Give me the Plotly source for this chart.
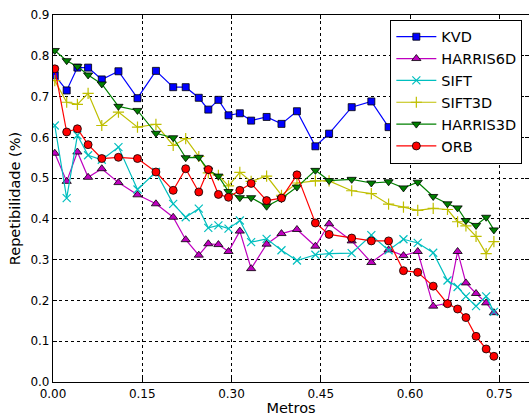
import plotly.graph_objects as go

X = [0.003, 0.023, 0.041, 0.059, 0.082, 0.110, 0.142, 0.173, 0.202, 0.223,
     0.245, 0.261, 0.278, 0.295, 0.314, 0.333, 0.359, 0.384, 0.410, 0.441,
     0.464, 0.502, 0.535, 0.564, 0.589, 0.613, 0.639, 0.663, 0.680, 0.694,
     0.711, 0.728, 0.741]

KVD = [0.752, 0.715, 0.771, 0.771, 0.742, 0.762, 0.696, 0.763, 0.723, 0.723,
       0.697, 0.668, 0.692, 0.654, 0.659, 0.641, 0.650, 0.633, 0.664, 0.578,
       0.609, 0.674, 0.688, 0.625]

HARRIS6D = [0.561, 0.492, 0.564, 0.502, 0.523, 0.489, 0.459, 0.437, 0.404, 0.349,
            0.311, 0.339, 0.337, 0.320, 0.370, 0.278, 0.338, 0.364, 0.374, 0.333,
            0.388, 0.346, 0.293, 0.324, 0.310, 0.320, 0.186, 0.193, 0.320, 0.243,
            0.217, 0.194, 0.170]

SIFT = [0.629, 0.451, 0.605, 0.556, 0.545, 0.576, 0.472, 0.515, 0.437, 0.404,
        0.425, 0.378, 0.384, 0.376, 0.396, 0.343, 0.351, 0.323, 0.298, 0.312,
        0.315, 0.316, 0.360, 0.323, 0.350, 0.341, 0.317, 0.249, 0.233, 0.210,
        0.186, 0.210, 0.172]

SIFT3D = [0.739, 0.686, 0.681, 0.708, 0.629, 0.662, 0.625, 0.632, 0.580, 0.597,
          0.553, 0.513, 0.507, 0.481, 0.514, 0.492, 0.505, 0.458, 0.488, 0.493,
          0.493, 0.469, 0.462, 0.436, 0.429, 0.421, 0.426, 0.423, 0.393, 0.383,
          0.357, 0.315, 0.344]

HARRIS3D = [0.813, 0.788, 0.774, 0.753, 0.731, 0.676, 0.666, 0.610, 0.599, 0.550,
            0.551, 0.520, 0.505, 0.467, 0.452, 0.452, 0.431, 0.450, 0.478, 0.519,
            0.494, 0.497, 0.488, 0.491, 0.476, 0.490, 0.455, 0.437, 0.427, 0.396,
            0.384, 0.404, 0.373]

ORB = [0.768, 0.613, 0.621, 0.582, 0.548, 0.551, 0.548, 0.515, 0.470, 0.523,
       0.466, 0.521, 0.460, 0.453, 0.470, 0.487, 0.445, 0.451, 0.508, 0.390,
       0.362, 0.353, 0.346, 0.346, 0.273, 0.269, 0.235, 0.192, 0.179, 0.158,
       0.112, 0.081, 0.063]

X_TICKS = [0.0, 0.15, 0.30, 0.45, 0.60, 0.75]
Y_TICKS = [0.0, 0.1, 0.2, 0.3, 0.4, 0.5, 0.6, 0.7, 0.8, 0.9]

series = [
    ("KVD", KVD, "#0000ff", "square", 7),
    ("HARRIS6D", HARRIS6D, "#bf00bf", "triangle-up", 8),
    ("SIFT", SIFT, "#00bfbf", "x-thin", 8),
    ("SIFT3D", SIFT3D, "#bfbf00", "cross-thin", 8),
    ("HARRIS3D", HARRIS3D, "#008000", "triangle-down", 8),
    ("ORB", ORB, "#ff0000", "circle", 8),
]

fig = go.Figure()
for name, vals, color, sym, size in series:
    thin = sym.endswith("thin")
    fig.add_trace(go.Scatter(
        x=X[:len(vals)], y=vals, name=name, mode="lines+markers",
        legendgroup=name,
        line=dict(color=color, width=1.2),
        marker=dict(symbol=sym, size=size, color=color,
                    line=dict(color=color if thin else "black",
                              width=1.2 if thin else 0.8)),
    ))

font = "DejaVu Sans, Verdana, sans-serif"
axis_common = dict(
    showgrid=True, gridcolor="black", griddash="dot", gridwidth=1,
    zeroline=False, showline=True, linecolor="black", linewidth=1.2,
    mirror="ticks", ticks="inside", ticklen=4, tickcolor="black",
    tickfont=dict(family=font, size=12, color="black"),
)

fig.update_layout(
    width=529, height=417,
    margin=dict(l=53, r=0, t=14.5, b=35.3),
    paper_bgcolor="white", plot_bgcolor="white",
    showlegend=True,
    legend=dict(
        x=0.986, y=0.987, xanchor="right", yanchor="top",
        bgcolor="white", bordercolor="black", borderwidth=1,
        font=dict(family=font, size=14.5, color="black"),
        traceorder="grouped", tracegroupgap=0,
        itemwidth=40,
    ),
    xaxis=dict(
        range=[0, 0.8], tickvals=X_TICKS,
        ticktext=[f"{v:.2f}" for v in X_TICKS],
        title=dict(text="Metros", font=dict(family=font, size=14.5, color="black"),
                   standoff=1),
        **axis_common,
    ),
    yaxis=dict(
        range=[0, 0.9], tickvals=Y_TICKS,
        ticktext=[f"{v:.1f}" for v in Y_TICKS],
        title=dict(text="Repetibilidade (%)",
                   font=dict(family=font, size=14.5, color="black"), standoff=6),
        **axis_common,
    ),
)

fig.write_html("out.html")
